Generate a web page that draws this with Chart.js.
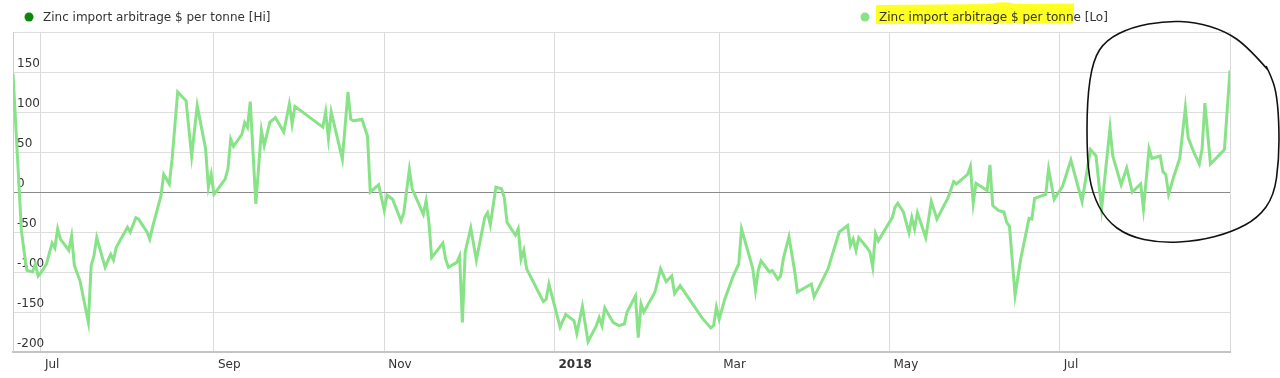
<!DOCTYPE html>
<html>
<head>
<meta charset="utf-8">
<title>Zinc import arbitrage</title>
<script src="https://cdn.jsdelivr.net/npm/chart.js@4.4.1/dist/chart.umd.min.js"></script>
<style>
  body { margin: 0; background: #fff; }
  #wrap { position: relative; width: 1280px; height: 378px; }
</style>
</head>
<body>
<div id="wrap">
  <canvas id="arbChart" width="1280" height="378"></canvas>
</div>
<script>
// days counted from 1 Jul 2017
const dayOffsets = [
    -10, -7, -6, -5, -3, -2, -1, 0, 2, 4,
    5, 6, 7, 10, 11, 12, 14, 17, 18, 19,
    20, 23, 25, 26, 27, 31, 32, 34, 35, 38,
    39, 40, 43, 44, 46, 47, 49, 52, 54, 56,
    59, 60, 61, 62, 66, 67, 68, 69, 72, 73,
    74, 75, 77, 79, 80, 82, 84, 87, 89, 90,
    91, 101, 102, 103, 104, 108, 110, 111, 112, 115,
    117, 118, 121, 123, 124, 126, 129, 130, 132, 133,
    137, 138, 139, 140, 144, 145, 146, 149, 150, 151,
    152, 154, 156, 159, 160, 161, 163, 165, 166, 167,
    170, 171, 172, 173, 174, 180, 181, 182, 186, 188,
    191, 192, 194, 196, 199, 200, 201, 202, 205, 207,
    209, 210, 213, 214, 215, 216, 220, 222, 224, 226,
    227, 229, 237, 240, 241, 242, 243, 245, 248, 250,
    251, 255, 256, 257, 258, 261, 262, 264, 265, 266,
    268, 270, 271, 276, 277, 282, 286, 289, 290, 291,
    292, 293, 296, 297, 298, 299, 300, 305, 306, 307,
    309, 311, 312, 313, 314, 317, 319, 321, 325, 327,
    328, 332, 333, 334, 335, 339, 340, 341, 343, 345,
    346, 347, 349, 351, 354, 355, 356, 360, 361, 363,
    366, 369, 373, 376, 378, 380, 383, 384, 387, 389,
    391, 394, 395, 397, 398, 401, 402, 403, 404, 406,
    408, 410, 411, 413, 415, 416, 417, 419, 424, 426
];

// Lo series, $ per tonne
const loValues = [
    148, -48, -75, -98, -100, -90, -105, -101, -90, -64,
    -70, -46, -59, -73, -55, -92, -111, -163, -92, -80,
    -57, -94, -78, -85, -69, -44, -50, -32, -34, -50,
    -59, -44, -5, 22, 10, 41, 125, 114, 45, 108,
    54, 6, 22, -3, 16, 29, 66, 57, 72, 87,
    81, 113, -15, 77, 58, 87, 93, 75, 110, 85,
    107, 81, 100, 67, 100, 41, 125, 91, 89, 91,
    70, 0, 9, -23, -4, -9, -36, -26, 28, 4,
    -28, -11, -38, -82, -64, -84, -94, -88, -80, -163,
    -75, -45, -85, -32, -26, -41, 6, 4, -7, -38,
    -54, -46, -84, -73, -96, -137, -134, -115, -169, -153,
    -161, -177, -143, -187, -167, -157, -167, -145, -163, -167,
    -165, -150, -130, -182, -140, -150, -125, -96, -112, -105,
    -127, -117, -158, -170, -167, -144, -159, -134, -105, -90,
    -46, -95, -123, -98, -86, -100, -98, -109, -105, -83,
    -56, -98, -125, -115, -131, -96, -50, -42, -67, -59,
    -73, -57, -70, -75, -94, -52, -61, -32, -19, -14,
    -25, -51, -32, -46, -26, -57, -12, -34, -7, 13,
    10, 22, 32, -14, 11, 2, 34, -17, -23, -25,
    -38, -43, -129, -84, -33, -34, -8, -3, 29, -9,
    7, 40, -12, 53, 45, -21, 80, 45, 9, 30,
    0, 10, -21, 54, 42, 45, 25, 22, -3, 21,
    42, 105, 68, 50, 35, 54, 111, 35, 53, 152
];

// Hi series is not visible in the picture
const hiValues = [];

const seriesNames = ['Zinc import arbitrage $ per tonne [Hi]', 'Zinc import arbitrage $ per tonne [Lo]'];
const seriesColors = ['#0b870b', '#88e388'];

const tickDays = [0, 62, 123, 184, 243, 304, 365];
const tickLabels = ['Jul', 'Sep', 'Nov', '2018', 'Mar', 'May', 'Jul'];
const firstDay = -10;
const lastDay = 426;

const FONT = '"DejaVu Sans", Verdana, sans-serif';
Chart.defaults.font.family = FONT;
Chart.defaults.font.size = 12;
Chart.defaults.color = '#333';

// legend, highlighter and the hand drawn loop
const legendAndNotes = {
    id: 'legendAndNotes',
    afterDraw(chart) {
        const ctx = chart.ctx;
        ctx.save();

        // yellow marker behind the Lo label
        ctx.fillStyle = '#ffff22';
        ctx.beginPath();
        ctx.moveTo(876, 24);
        ctx.lineTo(876, 5);
        ctx.lineTo(940, 4.5);
        ctx.lineTo(990, 4);
        ctx.quadraticCurveTo(1003, 0.5, 1016, 4);
        ctx.lineTo(1074, 3.5);
        ctx.lineTo(1074, 23);
        ctx.closePath();
        ctx.fill();

        const items = [{ x: 29, tx: 43 }, { x: 865, tx: 879 }];
        ctx.font = '12px ' + FONT;
        ctx.textBaseline = 'middle';
        items.forEach((it, i) => {
            ctx.fillStyle = seriesColors[i];
            ctx.beginPath();
            ctx.arc(it.x, 17, 4.5, 0, Math.PI * 2);
            ctx.fill();
            ctx.fillStyle = '#333';
            ctx.fillText(seriesNames[i], it.tx, 18);
        });

        const loop = [
            [1268, 70], [1248, 47], [1225, 31], [1195, 22], [1165, 21], [1132, 27],
            [1106, 40], [1093, 60], [1087, 100], [1087, 160], [1092, 193], [1106, 220],
            [1128, 236], [1160, 243], [1198, 241], [1232, 232], [1258, 218], [1274, 196],
            [1279, 160], [1279, 120], [1276, 90], [1270, 74], [1266, 66]
        ];
        ctx.strokeStyle = '#111';
        ctx.lineWidth = 1.6;
        ctx.beginPath();
        ctx.moveTo(loop[0][0], loop[0][1]);
        for (let i = 1; i < loop.length - 1; i++) {
            const mx = (loop[i][0] + loop[i + 1][0]) / 2;
            const my = (loop[i][1] + loop[i + 1][1]) / 2;
            ctx.quadraticCurveTo(loop[i][0], loop[i][1], mx, my);
        }
        ctx.lineTo(loop[loop.length - 1][0], loop[loop.length - 1][1]);
        ctx.stroke();

        ctx.restore();
    }
};

const loPoints = dayOffsets.map((d, i) => ({ x: d, y: loValues[i] }));

const ctx = document.getElementById('arbChart').getContext('2d');
const arbChart = new Chart(ctx, {
    type: 'line',
    data: {
        datasets: [{
            label: seriesNames[0],
            data: hiValues,
            borderColor: seriesColors[0],
            borderWidth: 3,
            pointRadius: 0
        }, {
            label: seriesNames[1],
            data: loPoints,
            borderColor: seriesColors[1],
            borderWidth: 3,
            pointRadius: 0,
            tension: 0
        }]
    },
    options: {
        responsive: false,
        animation: false,
        layout: { padding: { left: 13, right: 50, top: 32, bottom: 0 } },
        plugins: {
            legend: { display: false },
            tooltip: { enabled: false }
        },
        scales: {
            x: {
                type: 'linear',
                min: firstDay,
                max: lastDay,
                afterBuildTicks: axis => {
                    axis.ticks = [firstDay, ...tickDays, lastDay].map(v => ({ value: v }));
                },
                afterFit: axis => { axis.height = 26; },
                grid: { color: '#dadada', drawTicks: false },
                border: { color: '#c4c4c4', width: 2 },
                ticks: {
                    autoSkip: false,
                    maxRotation: 0,
                    align: 'start',
                    labelOffset: 4,
                    padding: 6,
                    color: '#333',
                    callback: v => {
                        const i = tickDays.indexOf(v);
                        return i < 0 ? '' : tickLabels[i];
                    },
                    font: c => ({ size: 12, weight: c.tick && c.tick.value === 184 ? 'bold' : 'normal' })
                }
            },
            y: {
                min: -200,
                max: 200,
                afterFit: axis => { axis.width = 0; },
                grid: {
                    color: c => c.tick.value === 0 ? '#8a8a8a' : '#dedede',
                    drawTicks: false
                },
                border: { color: '#cccccc' },
                ticks: {
                    stepSize: 50,
                    mirror: true,
                    padding: 4,
                    labelOffset: -8,
                    color: '#333',
                    callback: v => v === 200 ? '' : v
                }
            }
        }
    },
    plugins: [legendAndNotes]
});
</script>
</body>
</html>
